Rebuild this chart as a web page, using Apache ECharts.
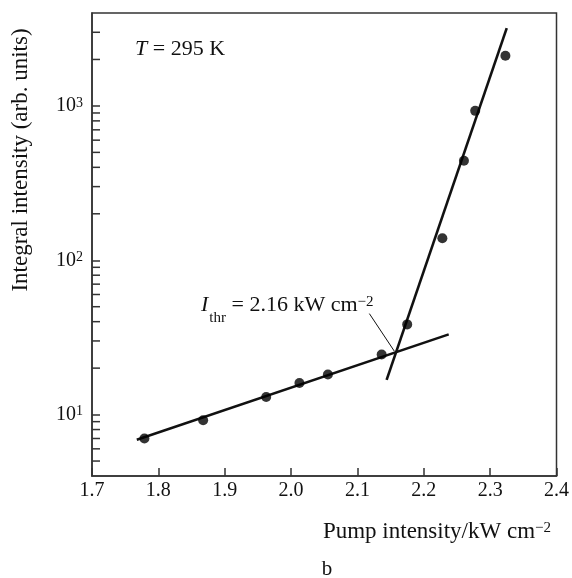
<!DOCTYPE html>
<html>
<head>
<meta charset="utf-8">
<script src="https://cdn.jsdelivr.net/npm/echarts@6/dist/echarts.min.js"></script>
<style>html,body{margin:0;padding:0;background:#fff}#c{width:572px;height:578px}</style>
</head>
<body>
<div id="c"></div>
<script>
// Measured points: pump intensity (kW cm^-2) and integral intensity (arb. units)
const pumpX = [1.779, 1.8675, 1.9625, 2.0126, 2.0555, 2.1365, 2.175, 2.228, 2.2605, 2.2775, 2.323];
const integralY = [7.0, 9.2, 13.0, 16.0, 18.2, 24.5, 38.4, 139, 441, 929, 2113];
// Fitted lines (end points)
const fitLowX = [1.7675, 2.2376];
const fitLowY = [6.88, 33.1];
const fitHighX = [2.144, 2.325];
const fitHighY = [16.8, 3195];
// Pointer from the annotation to the threshold intersection
const pointerX = [2.118, 2.1555];
const pointerY = [45.1, 25.8];
// Axis definitions
const xTicks = ['1.7','1.8','1.9','2.0','2.1','2.2','2.3','2.4'];
const yMinorTicks = [5,6,7,8,9,20,30,40,50,60,70,80,90,200,300,400,500,600,700,800,900,2000,3000];

const FONT = '"Liberation Serif", "DejaVu Serif", serif';
const INK = '#111';

const pairs = (xs, ys) => xs.map((x, i) => [x, ys[i]]);

const chart = echarts.init(document.getElementById('c'), null, {renderer: 'canvas'});
chart.setOption({
  animation: false,
  backgroundColor: '#fff',
  grid: {left: 92, right: 13, top: 13, bottom: 102, show: true, borderColor: '#333', borderWidth: 1.5, backgroundColor: 'transparent'},
  xAxis: {
    type: 'value', min: 1.7, max: 2.4, interval: 0.1,
    axisLine: {show: true, lineStyle: {color: '#333', width: 1.5}},
    axisTick: {show: true, inside: true, length: 8, lineStyle: {color: '#333', width: 1.5}},
    splitLine: {show: false},
    axisLabel: {
      margin: 5, color: INK, fontFamily: FONT, fontSize: 20,
      formatter: v => xTicks[Math.round((v - 1.7) * 10)] || ''
    }
  },
  yAxis: {
    type: 'log', logBase: 10, min: 4, max: 4000,
    axisLine: {show: true, lineStyle: {color: '#333', width: 1.5}},
    axisTick: {show: true, inside: true, length: 8, lineStyle: {color: '#333', width: 1.5}},
    splitLine: {show: false},
    axisLabel: {
      margin: 9, showMinLabel: false, showMaxLabel: false,
      formatter: v => '{b|10}{s|' + Math.round(Math.log10(v)) + '}',
      rich: {
        b: {fontFamily: FONT, fontSize: 20, lineHeight: 20, color: INK, verticalAlign: 'top'},
        s: {fontFamily: FONT, fontSize: 14, lineHeight: 14, color: INK, verticalAlign: 'top'}
      }
    }
  },
  series: [
    {
      type: 'custom', silent: true, clip: false, z: 5,
      data: yMinorTicks.map(v => [1.7, v]),
      renderItem: (params, api) => {
        const p = api.coord([api.value(0), api.value(1)]);
        return {type: 'line', shape: {x1: p[0], y1: p[1], x2: p[0] + 8, y2: p[1]},
                style: {stroke: '#333', lineWidth: 1.5}};
      }
    },
    {type: 'line', data: pairs(fitLowX, fitLowY), showSymbol: false, silent: true,
     lineStyle: {color: INK, width: 2.6}},
    {type: 'line', data: pairs(fitHighX, fitHighY), showSymbol: false, silent: true,
     lineStyle: {color: INK, width: 2.6}},
    {type: 'line', data: pairs(pointerX, pointerY), showSymbol: false, silent: true,
     lineStyle: {color: INK, width: 1}},
    {type: 'scatter', data: pairs(pumpX, integralY), symbol: 'circle', symbolSize: 10,
     itemStyle: {color: '#000'}, z: 4}
  ],
  graphic: [
    {type: 'text', x: 135, y: 38, style: {
      text: '{i|T}{n| = 295 K}', textAlign: 'left', textVerticalAlign: 'top',
      rich: {
        i: {fontFamily: FONT, fontSize: 22, lineHeight: 22, fontStyle: 'italic', fill: INK, verticalAlign: 'top'},
        n: {fontFamily: FONT, fontSize: 22, lineHeight: 22, fill: INK, verticalAlign: 'top'}
      }}},
    {type: 'text', x: 201, y: 294.6, style: {
      text: '{i|I}{sub|thr}{n| = 2.16 kW cm}{sup|\u22122}', textAlign: 'left', textVerticalAlign: 'top',
      rich: {
        i: {fontFamily: FONT, fontSize: 22, lineHeight: 22, fontStyle: 'italic', fill: INK, verticalAlign: 'top'},
        sub: {fontFamily: FONT, fontSize: 15, lineHeight: 15, fill: INK, verticalAlign: 'top', padding: [16, 0, 0, 1]},
        n: {fontFamily: FONT, fontSize: 22, lineHeight: 22, fill: INK, verticalAlign: 'top'},
        sup: {fontFamily: FONT, fontSize: 15, lineHeight: 15, fill: INK, verticalAlign: 'top'}
      }}},
    {type: 'text', x: 551, y: 520.5, style: {
      text: '{n|Pump intensity/kW cm}{sup|\u22122}', textAlign: 'right', textVerticalAlign: 'top',
      rich: {
        n: {fontFamily: FONT, fontSize: 23, lineHeight: 23, fill: INK, verticalAlign: 'top'},
        sup: {fontFamily: FONT, fontSize: 15, lineHeight: 15, fill: INK, verticalAlign: 'top'}
      }}},
    {type: 'text', x: 21, y: 160, rotation: Math.PI / 2, style: {
      text: 'Integral intensity (arb. units)', textAlign: 'center', textVerticalAlign: 'middle',
      fontFamily: FONT, fontSize: 23, fill: INK}},
    {type: 'text', x: 327, y: 569, style: {
      text: 'b', textAlign: 'center', textVerticalAlign: 'middle',
      fontFamily: FONT, fontSize: 21, fill: INK}}
  ]
});
</script>
</body>
</html>
